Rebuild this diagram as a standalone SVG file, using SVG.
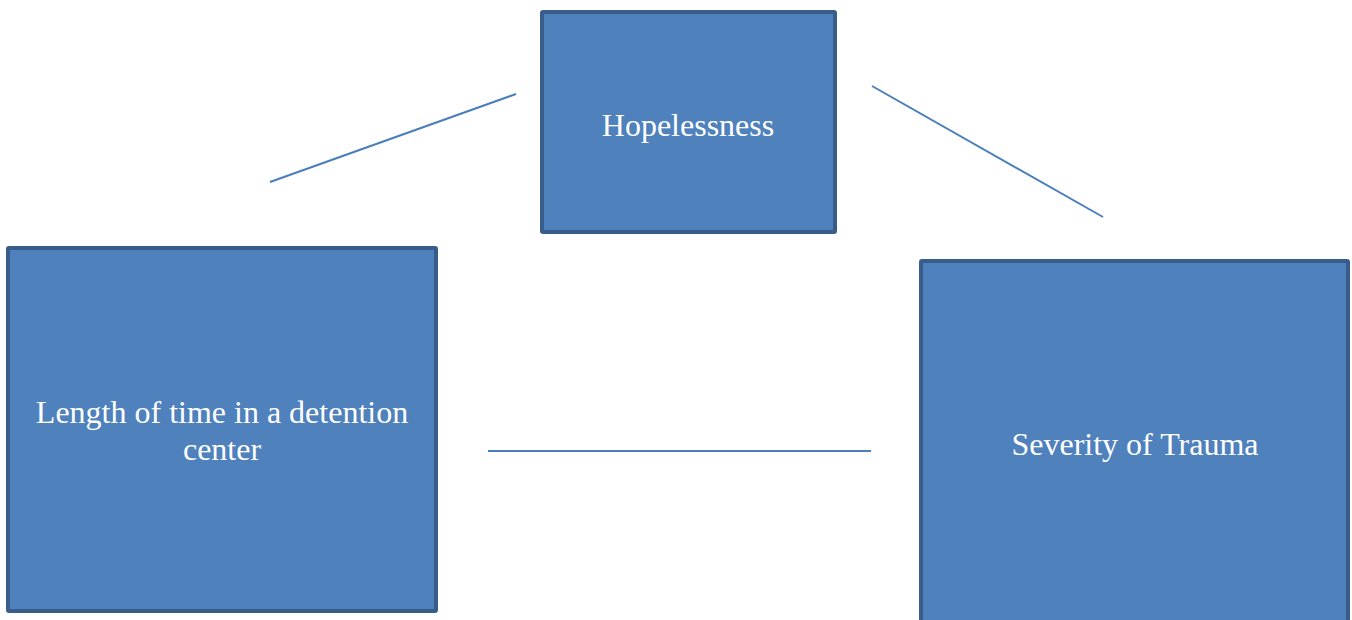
<svg xmlns="http://www.w3.org/2000/svg" width="1352" height="620" viewBox="0 0 1352 620">
<style>
.box{fill:#4f81bd;stroke:#385d8a;stroke-width:4}
.lbl{font-family:"Liberation Serif","Times New Roman",serif;font-size:32px;fill:#ffffff;text-anchor:middle}
.conn{stroke:#4a7ebb;stroke-width:2;fill:none}
</style>
<rect width="1352" height="620" fill="#ffffff"/>
<g id="connectors">
<line class="conn" x1="270" y1="182" x2="516" y2="94"/>
<line class="conn" x1="872" y1="86" x2="1103" y2="217"/>
<line class="conn" x1="488" y1="451" x2="871" y2="451"/>
</g>
<g id="node-hopelessness">
<rect class="box" x="542" y="12" width="293" height="220" rx="1"/>
<text class="lbl" x="688" y="136">Hopelessness</text>
</g>
<g id="node-length">
<rect class="box" x="8" y="248" width="428" height="363" rx="1"/>
<text class="lbl" x="222" y="423">Length of time in a detention</text>
<text class="lbl" x="222" y="460">center</text>
</g>
<g id="node-severity">
<rect class="box" x="921" y="261" width="427" height="370" rx="1"/>
<text class="lbl" x="1135" y="455">Severity of Trauma</text>
</g>
</svg>
